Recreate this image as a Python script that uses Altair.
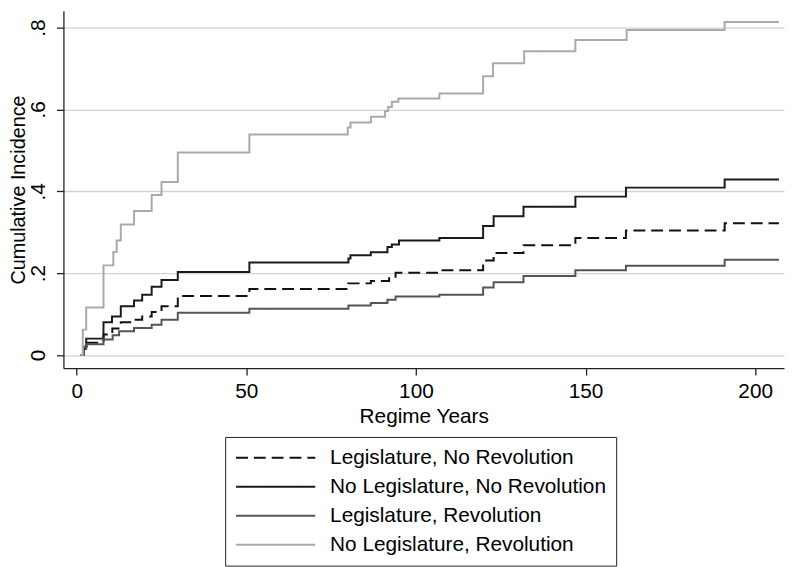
import altair as alt
import pandas as pd

series_names = [
    "Legislature, No Revolution",
    "No Legislature, No Revolution",
    "Legislature, Revolution",
    "No Legislature, Revolution",
]
series_colors = ["#111111", "#1a1a1a", "#555555", "#a9a9a9"]
series_dashes = [[12, 6], [1, 0], [1, 0], [1, 0]]

# Legislature, No Revolution (dashed black)
leg_norev_t = [1.2, 2.0, 2.8, 7.9, 10.5, 13.0, 16.9, 19.3, 22.1, 25.0, 29.8, 50.9, 80.0, 86.7,
               92.1, 94.0, 106.9, 119.8, 122.9, 131.7, 147.0, 161.9, 191.0, 207.0]
leg_norev_v = [0, 0.015, 0.03, 0.05, 0.065, 0.08, 0.086, 0.094, 0.105, 0.119, 0.144, 0.161, 0.175, 0.181,
               0.191, 0.201, 0.207, 0.231, 0.249, 0.268, 0.286, 0.304, 0.322, 0.322]

# No Legislature, No Revolution (solid black)
noleg_norev_t = [1.2, 2.0, 2.8, 7.9, 10.4, 13.0, 16.9, 19.3, 22.1, 25.0, 29.8, 50.9, 80.1, 80.7, 86.7,
                 91.6, 92.9, 95.0, 106.9, 119.8, 122.9, 131.7, 147.0, 161.9, 191.0, 207.0]
noleg_norev_v = [0, 0.02, 0.04, 0.08, 0.094, 0.119, 0.133, 0.147, 0.167, 0.183, 0.203, 0.226, 0.236, 0.244, 0.251,
                 0.264, 0.270, 0.28, 0.286, 0.315, 0.339, 0.362, 0.387, 0.409, 0.429, 0.429]

# Legislature, Revolution (dark gray)
leg_rev_t = [1.2, 2.0, 3.0, 7.9, 10.6, 12.5, 16.9, 22.1, 25.0, 29.8, 50.9, 80.1, 86.7, 91.6, 94.0,
             106.9, 119.8, 122.9, 131.7, 147.0, 161.9, 191.0, 207.0]
leg_rev_v = [0, 0.02, 0.026, 0.038, 0.048, 0.058, 0.066, 0.074, 0.086, 0.103, 0.113, 0.121, 0.127, 0.135, 0.143,
             0.147, 0.165, 0.178, 0.193, 0.207, 0.218, 0.233, 0.233]

# No Legislature, Revolution (light gray)
noleg_rev_t = [1.2, 1.8, 2.8, 7.9, 10.8, 11.8, 13.0, 16.9, 22.1, 25.0, 29.8, 50.9, 79.9, 80.7, 86.7,
               90.9, 91.8, 92.9, 94.8, 106.9, 119.8, 122.7, 131.9, 147.0, 162.1, 191.0, 207.0]
noleg_rev_v = [0, 0.062, 0.116, 0.219, 0.252, 0.28, 0.319, 0.352, 0.391, 0.423, 0.495, 0.539, 0.556, 0.568, 0.582,
               0.596, 0.606, 0.619, 0.627, 0.639, 0.681, 0.713, 0.742, 0.770, 0.794, 0.814, 0.814]

x_ticks = [0, 50, 100, 150, 200]
y_ticks = [0, 0.2, 0.4, 0.6, 0.8]

rows = []
for name, ts, vs in zip(series_names,
                        [leg_norev_t, noleg_norev_t, leg_rev_t, noleg_rev_t],
                        [leg_norev_v, noleg_norev_v, leg_rev_v, noleg_rev_v]):
    for t, v in zip(ts, vs):
        rows.append({"series": name, "t": t, "v": v})
df = pd.DataFrame(rows)

FONT = "Liberation Sans"

chart = alt.Chart(df).mark_line(interpolate="step-after", strokeWidth=2).encode(
    x=alt.X("t:Q",
            scale=alt.Scale(domain=[-3.91, 208.5], nice=False, zero=False),
            axis=alt.Axis(values=x_ticks, title="Regime Years", grid=False,
                          labelFontSize=21, titleFontSize=21, labelPadding=6,
                          titlePadding=4, tickSize=7, labelFlush=False)),
    y=alt.Y("v:Q",
            scale=alt.Scale(domain=[-0.0322, 0.841], nice=False, zero=False),
            axis=alt.Axis(values=y_ticks, title="Cumulative Incidence",
                          labelExpr="datum.value == 0 ? '0' : '.' + format(datum.value*10, 'd')",
                          labelAngle=270, labelAlign="center", labelBaseline="alphabetic",
                          labelPadding=12, tickSize=7, labelFontSize=21, titleFontSize=20,
                          grid=True, gridColor="#d4d4d4", gridWidth=1.3,
                          titleX=-39, titleBaseline="alphabetic", labelFlush=False)),
    color=alt.Color("series:N",
                    scale=alt.Scale(domain=series_names, range=series_colors),
                    legend=alt.Legend(title=None)),
    strokeDash=alt.StrokeDash("series:N",
                              scale=alt.Scale(domain=series_names, range=series_dashes),
                              legend=alt.Legend(title=None)),
).properties(
    width=728,
    height=361,
    padding={"left": 56, "top": 0, "right": 3, "bottom": 198},
    autosize=alt.AutoSizeParams(type="none"),
).configure(
    font=FONT,
).configure_view(
    stroke=None,
).configure_axis(
    domainColor="#222222",
    domainWidth=1.3,
    tickColor="#222222",
    tickWidth=1.3,
    labelColor="black",
    titleColor="black",
    titleFontWeight="normal",
    labelFont=FONT,
    titleFont=FONT,
).configure_legend(
    orient="none",
    legendX=163.4,
    legendY=430.5,
    padding=10,
    strokeColor="#222222",
    symbolType="stroke",
    symbolSize=6400,
    symbolStrokeWidth=2,
    clipHeight=22,
    rowPadding=7.3,
    labelOffset=14,
    labelFontSize=21,
    labelFont=FONT,
    labelColor="black",
    labelLimit=0,
    direction="vertical",
)

chart.save("out.html", embed_options={"renderer": "svg", "actions": False})
